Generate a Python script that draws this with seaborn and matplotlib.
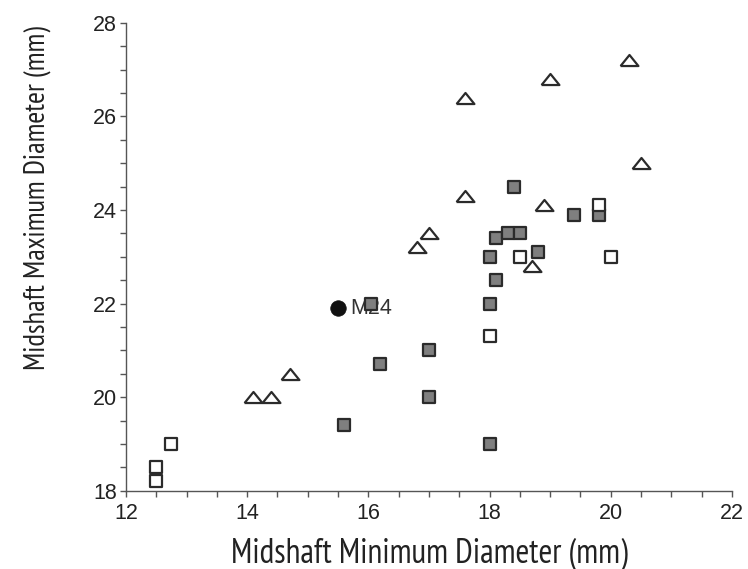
import matplotlib
matplotlib.use("Agg")
import matplotlib.pyplot as plt
from matplotlib import font_manager
from matplotlib.ticker import MultipleLocator
import seaborn as sns
import pandas as pd

# Data
tri_x = [14.1, 14.4, 14.7, 16.8, 17.0, 17.6, 17.6, 18.7, 18.9, 19.0, 20.3, 20.5]
tri_y = [20.0, 20.0, 20.5, 23.2, 23.5, 26.4, 24.3, 22.8, 24.1, 26.8, 27.2, 25.0]

open_sq_x = [12.5, 12.5, 12.75, 18.0, 18.5, 19.8, 20.0]
open_sq_y = [18.2, 18.5, 19.0, 21.3, 23.0, 24.1, 23.0]

gray_sq_x = [15.6, 16.05, 16.2, 17.0, 17.0, 18.0, 18.0, 18.1, 18.0, 18.1, 18.3, 18.5, 18.8, 18.4, 19.4, 19.8]
gray_sq_y = [19.4, 22.0, 20.7, 21.0, 20.0, 19.0, 22.0, 22.5, 23.0, 23.4, 23.5, 23.5, 23.1, 24.5, 23.9, 23.9]

m24_x = [15.5]
m24_y = [21.9]
m24_label = "M24"

x_label = "Midshaft Minimum Diameter (mm)"
y_label = "Midshaft Maximum Diameter (mm)"

sns.set_style("ticks")
plt.rcParams['font.family'] = ['Liberation Sans', 'DejaVu Sans']

available = {f.name for f in font_manager.fontManager.ttflist}
narrow = None
for cand in ["Liberation Sans Narrow", "Arial Narrow", "PT Sans Narrow", "Archivo Narrow",
             "Roboto Condensed", "Open Sans Condensed"]:
    if cand in available:
        narrow = cand
        break
label_family = [narrow, 'Liberation Sans', 'DejaVu Sans'] if narrow else ['Liberation Sans', 'DejaVu Sans']

fig = plt.figure(figsize=(7.48, 5.69), dpi=100)
ax = fig.add_axes([0.1684, 0.1376, 0.9786 - 0.1684, 0.9601 - 0.1376])

edge = "#2b2b2b"
tri_marker = [(-1, -0.62), (1, -0.62), (0, 0.62), (-1, -0.62)]

df_gray = pd.DataFrame({"x": gray_sq_x, "y": gray_sq_y})
df_open = pd.DataFrame({"x": open_sq_x, "y": open_sq_y})
df_tri = pd.DataFrame({"x": tri_x, "y": tri_y})
df_m = pd.DataFrame({"x": m24_x, "y": m24_y})

ax.annotate(m24_label, (m24_x[0], m24_y[0]), xytext=(8.5, 0), textcoords="offset points",
            va="center", ha="left", fontsize=15.5, color="#333333", zorder=2)

sns.scatterplot(data=df_gray, x="x", y="y", marker="s", s=85, color="#7f7f7f",
                edgecolor=edge, linewidth=1.6, ax=ax, zorder=3)
sns.scatterplot(data=df_open, x="x", y="y", marker="s", s=85, color="white",
                edgecolor=edge, linewidth=1.6, ax=ax, zorder=4)
sns.scatterplot(data=df_tri, x="x", y="y", marker=tri_marker, s=165, color="white",
                edgecolor=edge, linewidth=1.6, ax=ax, zorder=5)
sns.scatterplot(data=df_m, x="x", y="y", marker="o", s=125, color="#111111",
                edgecolor="#111111", linewidth=0.5, ax=ax, zorder=6)

ax.set_xlim(12, 22)
ax.set_ylim(18, 28)
ax.xaxis.set_major_locator(MultipleLocator(2))
ax.xaxis.set_minor_locator(MultipleLocator(0.5))
ax.yaxis.set_major_locator(MultipleLocator(2))
ax.yaxis.set_minor_locator(MultipleLocator(0.5))

for s in ["top", "right"]:
    ax.spines[s].set_visible(False)
for s in ["left", "bottom"]:
    ax.spines[s].set_color("#555555")
    ax.spines[s].set_linewidth(1.0)

ax.tick_params(which="both", direction="out", length=4.5, width=1.0, color="#555555",
               labelsize=15.5, labelcolor="#222222")
ax.tick_params(axis="x", which="both", pad=4)
ax.tick_params(axis="y", which="both", pad=2)

ax.set_xlabel(x_label, fontsize=20, color="#222222", family=label_family)
ax.set_ylabel(y_label, fontsize=18, color="#222222", family=label_family)

# place labels: x label baseline ~562 px from top, y label centred ~198 px from top
ax.xaxis.label.set_va("baseline")
ax.xaxis.set_label_coords(0.5, -0.152)
ax.yaxis.label.set_va("baseline")
ax.yaxis.set_label_coords(-0.135, 0.625)

# fit label lengths to the reference (x ~396 px, y ~343 px)
fig.canvas.draw()
r = fig.canvas.get_renderer()
wx = ax.xaxis.label.get_window_extent(r).width
ax.xaxis.label.set_fontsize(20 * 396.0 / wx)
hy = ax.yaxis.label.get_window_extent(r).height
ax.yaxis.label.set_fontsize(18 * 343.0 / hy)

fig.savefig("out.png", dpi=100)
